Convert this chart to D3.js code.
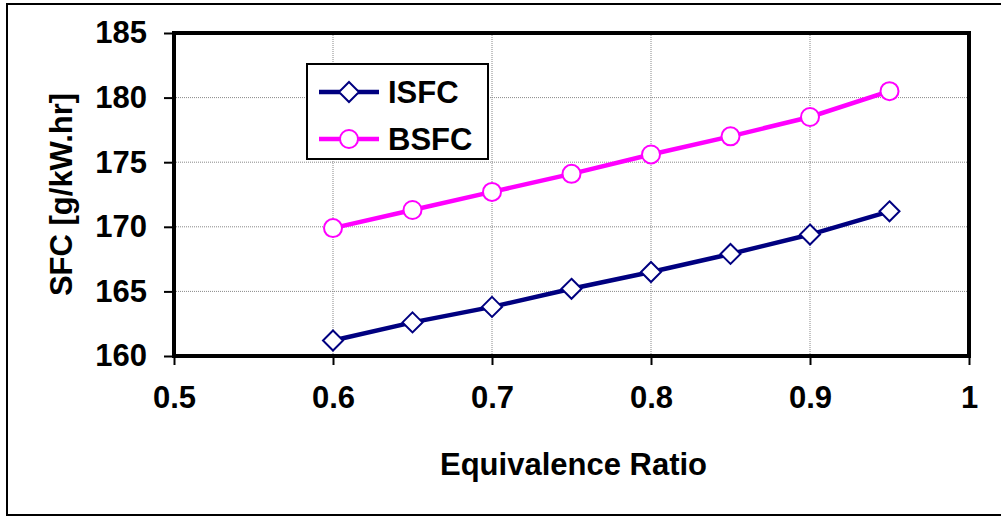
<!DOCTYPE html>
<html>
<head>
<meta charset="utf-8">
<script src="https://cdn.jsdelivr.net/npm/d3@7"></script>
<style>
  html, body { margin: 0; padding: 0; background: #fff; }
  svg { display: block; }
  text { font-family: "Liberation Sans", Arial, sans-serif; font-weight: bold; fill: #000; }
</style>
</head>
<body>
<svg id="chart" width="1001" height="516"></svg>
<script>
const equivRatio = [0.6, 0.65, 0.7, 0.75, 0.8, 0.85, 0.9, 0.95];
const isfc = [161.2, 162.6, 163.8, 165.2, 166.5, 167.9, 169.4, 171.2];
const bsfc = [169.9, 171.3, 172.7, 174.1, 175.6, 177.0, 178.5, 180.5];
const xTicks = [0.5, 0.6, 0.7, 0.8, 0.9, 1.0];
const yTicks = [160, 165, 170, 175, 180, 185];
const seriesNames = ["ISFC", "BSFC"];
const xTitle = "Equivalence Ratio";
const yTitle = "SFC [g/kW.hr]";

const svg = d3.select("#chart");
const L = 174, R = 969, T = 33, B = 356;

const x = d3.scaleLinear().domain([0.5, 1.0]).range([L, R]);
const y = d3.scaleLinear().domain([160, 185]).range([B, T]);

// outer frame
svg.append("rect").attr("x", 7).attr("y", 4).attr("width", 1000).attr("height", 511)
  .attr("fill", "#fff").attr("stroke", "#000").attr("stroke-width", 2);

// grid
const grid = svg.append("g");
grid.selectAll("line.gx").data(xTicks.filter(d => d > 0.5 && d < 1.0)).enter().append("line")
  .attr("x1", d => x(d)).attr("x2", d => x(d)).attr("y1", T).attr("y2", B)
  .attr("stroke", "#888").attr("stroke-width", 1).attr("stroke-dasharray", "1,1");
grid.selectAll("line.gy").data(yTicks.filter(d => d > 160 && d < 185)).enter().append("line")
  .attr("x1", L).attr("x2", R).attr("y1", d => y(d)).attr("y2", d => y(d))
  .attr("stroke", "#888").attr("stroke-width", 1).attr("stroke-dasharray", "1,1");

// plot border
svg.append("rect").attr("x", L).attr("y", T).attr("width", R - L).attr("height", B - T)
  .attr("fill", "none").attr("stroke", "#000").attr("stroke-width", 4);

// axes
const xAxis = svg.append("g").attr("transform", `translate(0,${B})`)
  .call(d3.axisBottom(x).tickValues(xTicks).tickFormat(d => d === 1 ? "1" : d3.format(".1f")(d)).tickSize(9).tickPadding(21));
xAxis.select(".domain").remove();
xAxis.selectAll(".tick line").attr("stroke", "#000").attr("stroke-width", 2);
xAxis.selectAll("text").style("font-size", "31px").attr("font-family", null).attr("fill", "#000");

const yAxis = svg.append("g").attr("transform", `translate(${L},0)`)
  .call(d3.axisLeft(y).tickValues(yTicks).tickSize(10).tickPadding(17));
yAxis.select(".domain").remove();
yAxis.selectAll(".tick line").attr("stroke", "#000").attr("stroke-width", 2);
yAxis.selectAll("text").style("font-size", "31px").attr("font-family", null).attr("fill", "#000");

// titles
svg.append("text").attr("x", (L + R) / 2 + 2).attr("y", 475).attr("text-anchor", "middle")
  .style("font-size", "31px").text(xTitle);
svg.append("text").attr("transform", `translate(72,${(T + B) / 2}) rotate(-90)`)
  .attr("text-anchor", "middle").style("font-size", "31px").text(yTitle);

// series
const colors = ["#000080", "#FF00FF"];
const data = [isfc, bsfc];
const line = d3.line().x((d, i) => x(equivRatio[i])).y(d => y(d));
const diamond = r => `M0,${-r}L${r},0L0,${r}L${-r},0Z`;

data.forEach((vals, si) => {
  svg.append("path").datum(vals).attr("d", line).attr("fill", "none")
    .attr("stroke", colors[si]).attr("stroke-width", 4.5);
  const g = svg.append("g");
  if (si === 0) {
    g.selectAll("path").data(vals).enter().append("path")
      .attr("d", diamond(10))
      .attr("transform", (d, i) => `translate(${x(equivRatio[i])},${y(d)})`)
      .attr("fill", "#fff").attr("stroke", colors[si]).attr("stroke-width", 2);
  } else {
    g.selectAll("circle").data(vals).enter().append("circle")
      .attr("cx", (d, i) => x(equivRatio[i])).attr("cy", d => y(d)).attr("r", 9)
      .attr("fill", "#fff").attr("stroke", colors[si]).attr("stroke-width", 2);
  }
});

// legend
const lg = svg.append("g");
lg.append("rect").attr("x", 307).attr("y", 64).attr("width", 181).attr("height", 95)
  .attr("fill", "#fff").attr("stroke", "#000").attr("stroke-width", 2);
const rowsY = [92, 139];
seriesNames.forEach((name, i) => {
  lg.append("line").attr("x1", 319).attr("x2", 379).attr("y1", rowsY[i]).attr("y2", rowsY[i])
    .attr("stroke", colors[i]).attr("stroke-width", 4.5);
  if (i === 0) {
    lg.append("path").attr("d", diamond(10)).attr("transform", `translate(349,${rowsY[i]})`)
      .attr("fill", "#fff").attr("stroke", colors[i]).attr("stroke-width", 2);
  } else {
    lg.append("circle").attr("cx", 349).attr("cy", rowsY[i]).attr("r", 9)
      .attr("fill", "#fff").attr("stroke", colors[i]).attr("stroke-width", 2);
  }
  lg.append("text").attr("x", 388).attr("y", rowsY[i]).attr("dy", "0.36em")
    .style("font-size", "31px").text(name);
});
</script>
</body>
</html>
